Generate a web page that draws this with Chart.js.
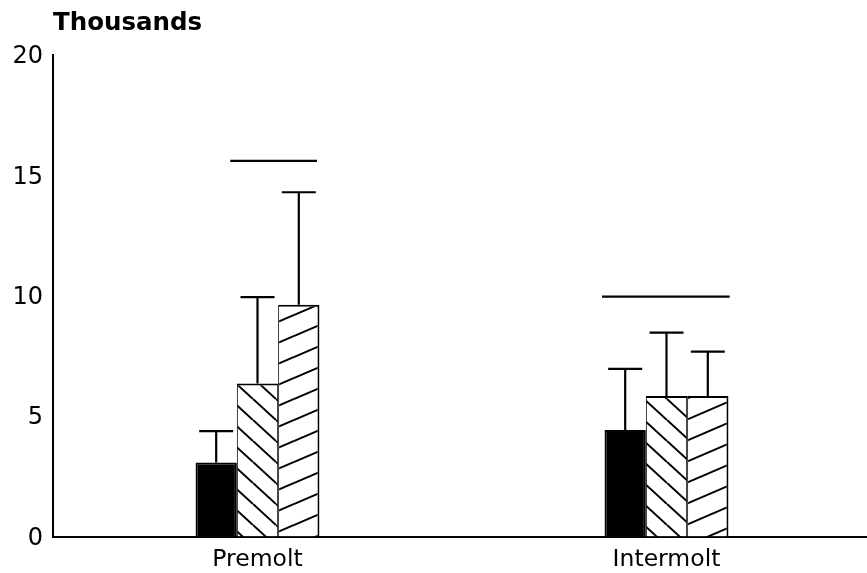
<!DOCTYPE html>
<html>
<head>
<meta charset="utf-8">
<script src="https://cdn.jsdelivr.net/npm/chart.js@4"></script>
<style>
  html, body { margin: 0; padding: 0; background: #fff; overflow: hidden; }
  #wrap { width: 867px; height: 573px; position: relative; }
</style>
</head>
<body>
<div id="wrap"><canvas id="c"></canvas></div>
<script>
// ---- data ----
const categories = ['Premolt', 'Intermolt'];
const seriesNames = ['Series 1', 'Series 2', 'Series 3'];
const series1 = [3.07, 4.42];
const series2 = [6.36, 5.84];
const series3 = [9.63, 5.84];
const error1 = [1.31, 2.54];
const error2 = [3.58, 2.63];
const error3 = [4.67, 1.84];
const sigLevels = [15.6, 9.96];
const yTicks = [0, 5, 10, 15, 20];
const yTitle = 'Thousands';

// ---- styling ----
const FONT = '"DejaVu Sans", "Liberation Sans", sans-serif';
const sigSpan = [[0.28, 0.98], [-0.02, 1.01]]; // fraction of group width
const xAxisSpan = 818; // category axis runs slightly past the right edge

function hatch(ctx, w, h, dir) {
  const c = document.createElement('canvas');
  c.width = w; c.height = h;
  const x = c.getContext('2d');
  x.fillStyle = '#fff';
  x.fillRect(0, 0, w, h);
  x.strokeStyle = '#000';
  x.lineWidth = 2;
  x.beginPath();
  for (let k = -1; k <= 1; k++) {
    if (dir === 'down') { x.moveTo(0, k * h); x.lineTo(w, k * h + h); }
    else { x.moveTo(0, k * h + h); x.lineTo(w, k * h); }
  }
  x.stroke();
  return ctx.createPattern(c, 'repeat');
}

const canvas = document.getElementById('c');
const ctx = canvas.getContext('2d');
const patDown = hatch(ctx, 23, 21, 'down');
const patUp = hatch(ctx, 49, 21, 'up');

const errors = [error1, error2, error3];

const widenX = {
  id: 'widenX',
  afterLayout(chart) {
    const s = chart.scales.x;
    s.right = s.left + xAxisSpan;
    s.width = xAxisSpan;
    s.configure();
  }
};

const extras = {
  id: 'extras',
  afterDatasetsDraw(chart) {
    const c = chart.ctx;
    const y = chart.scales.y;
    c.save();
    c.strokeStyle = '#000';
    c.lineWidth = 2.2;
    chart.data.datasets.forEach((ds, i) => {
      const meta = chart.getDatasetMeta(i);
      meta.data.forEach((bar, j) => {
        const top = y.getPixelForValue(ds.data[j]);
        const cap = y.getPixelForValue(ds.data[j] + errors[i][j]);
        c.beginPath();
        c.moveTo(bar.x, top);
        c.lineTo(bar.x, cap);
        c.moveTo(bar.x - 17, cap);
        c.lineTo(bar.x + 17, cap);
        c.stroke();
      });
    });
    // significance lines
    const m0 = chart.getDatasetMeta(0), m2 = chart.getDatasetMeta(2);
    sigLevels.forEach((lv, j) => {
      const left = m0.data[j].x - m0.data[j].width / 2;
      const right = m2.data[j].x + m2.data[j].width / 2;
      const w = right - left;
      const py = y.getPixelForValue(lv);
      c.beginPath();
      c.moveTo(left + sigSpan[j][0] * w, py);
      c.lineTo(left + sigSpan[j][1] * w, py);
      c.stroke();
    });
    // axis title
    c.fillStyle = '#000';
    c.font = 'bold 24.5px ' + FONT;
    c.textAlign = 'left';
    c.textBaseline = 'alphabetic';
    c.fillText(yTitle, chart.chartArea.left, 30);
    c.restore();
  }
};

new Chart(canvas, {
  type: 'bar',
  data: {
    labels: categories,
    datasets: [
      { label: seriesNames[0], data: series1, backgroundColor: '#000', borderColor: '#000', borderWidth: 2 },
      { label: seriesNames[1], data: series2, backgroundColor: patDown, borderColor: '#000', borderWidth: {top: 2, left: 1, right: 1, bottom: 0} },
      { label: seriesNames[2], data: series3, backgroundColor: patUp, borderColor: '#000', borderWidth: {top: 2, left: 1, right: 2, bottom: 0} }
    ]
  },
  options: {
    responsive: true,
    maintainAspectRatio: false,
    animation: false,
    layout: { padding: { top: 55, right: 0, bottom: 0, left: 0 } },
    plugins: { legend: { display: false }, tooltip: { enabled: false }, title: { display: false } },
    datasets: { bar: { barPercentage: 1.0, categoryPercentage: 0.303 } },
    scales: {
      x: {
        afterFit(scale) { scale.height = 36.5; scale.paddingLeft = 0; scale.paddingRight = 0; },
        grid: { display: false, drawTicks: false },
        border: { display: true, color: '#000', width: 2 },
        ticks: { color: '#000', font: { family: FONT, size: 23.5, lineHeight: 1 }, padding: 11.5 }
      },
      y: {
        min: 0, max: 20,
        afterBuildTicks(scale) { scale.ticks = yTicks.map(v => ({ value: v })); },
        afterFit(scale) { scale.width = 53; scale.paddingTop = 0; scale.paddingBottom = 0; },
        grid: { display: false, drawTicks: false },
        border: { display: true, color: '#000', width: 2 },
        ticks: { color: '#000', font: { family: FONT, size: 24 }, padding: 10, labelOffset: 2 }
      }
    }
  },
  plugins: [widenX, extras]
});
</script>
</body>
</html>
